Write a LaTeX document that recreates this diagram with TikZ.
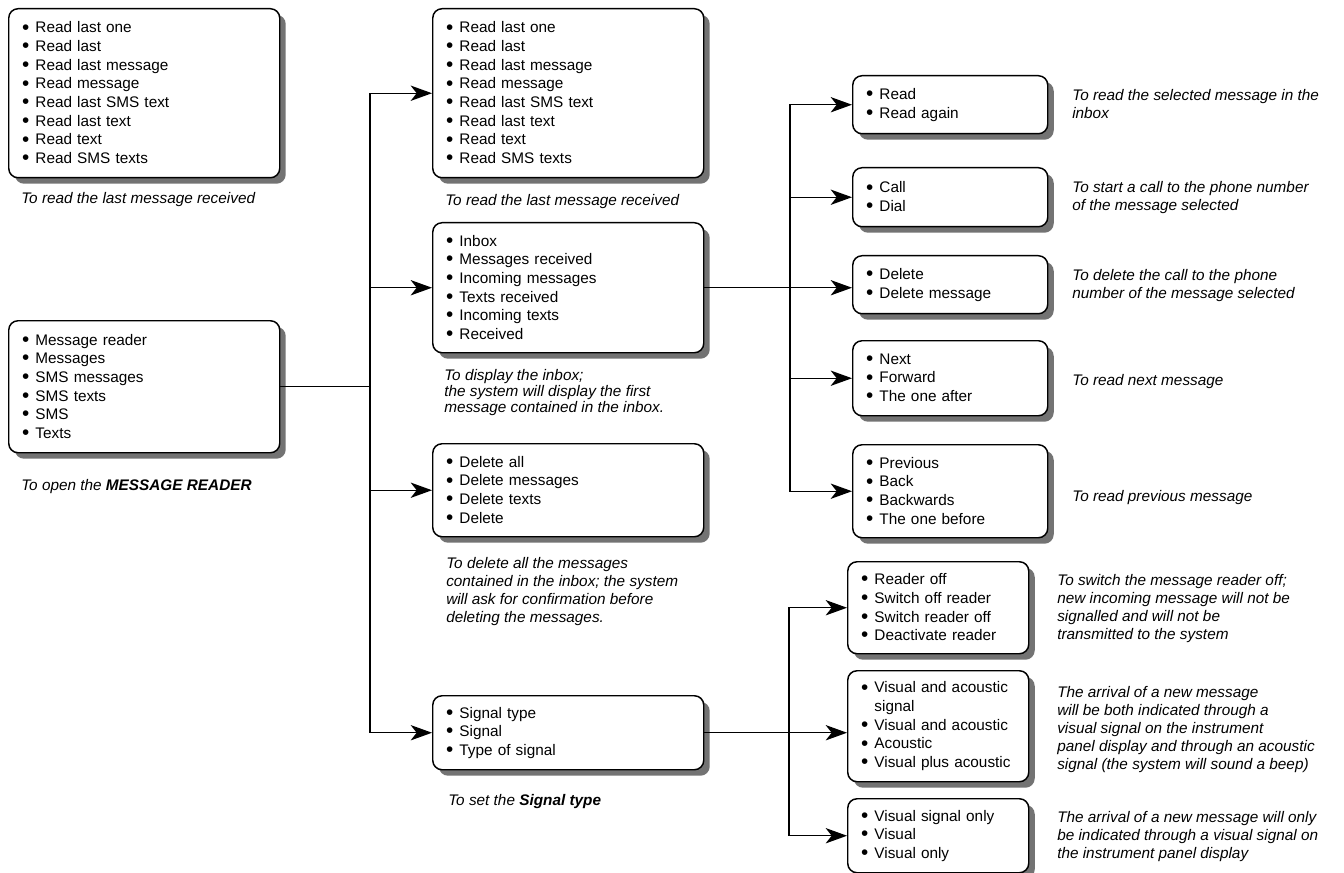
\documentclass[tikz,border=0pt]{standalone}
\usepackage{fontspec}
\usepackage{graphicx}
\setmainfont{Liberation Sans}
\usetikzlibrary{arrows.meta,shadows}
\newcommand{\bl}{\raisebox{-0.9pt}{\scalebox{1.35}{\textbullet}}\hspace{0.4em}}
\tikzset{
  cmdbox/.style={draw, line width=1.1pt, rounded corners=7pt, fill=white, align=left,
    anchor=north west, inner xsep=10pt, inner ysep=0pt,
    drop shadow={shadow xshift=4.5pt, shadow yshift=-4.5pt, fill=black!55, opacity=1}},
  wbox/.style={cmdbox, text width=183.25pt},
  rbox/.style={cmdbox, text width=126.25pt},
  sbox/.style={cmdbox, text width=115.75pt},
  note/.style={anchor=north west, inner sep=0pt, align=left,
    font=\fontsize{11.5}{13.6}\selectfont\itshape},
  link/.style={line width=1pt},
  arr/.style={-{Stealth[length=16pt, width=11.5pt, inset=4.5pt]}}
}
\begin{document}
\begin{tikzpicture}[x=0.75pt, y=-0.75pt, font=\fontsize{11.5}{14}\selectfont]
  \useasboundingbox (0,0) rectangle (1344,873);
  \foreach \n/\px/\py/\h/\t in {
      bA/8/8/169/{\bl Read last one\\ \bl Read last\\ \bl Read last message\\ \bl Read message\\
        \bl Read last SMS text\\ \bl Read last text\\ \bl Read text\\ \bl Read SMS texts},
      bB/8/320/132/{\bl Message reader\\ \bl Messages\\ \bl SMS messages\\ \bl SMS texts\\
        \bl SMS\\ \bl Texts},
      bC/432/8/169/{\bl Read last one\\ \bl Read last\\ \bl Read last message\\ \bl Read message\\
        \bl Read last SMS text\\ \bl Read last text\\ \bl Read text\\ \bl Read SMS texts},
      bD/432/222/130/{\bl Inbox\\ \bl Messages received\\ \bl Incoming messages\\
        \bl Texts received\\ \bl Incoming texts\\ \bl Received},
      bE/432/443/93/{\bl Delete all\\ \bl Delete messages\\ \bl Delete texts\\ \bl Delete},
      bF/432/695/74/{\bl Signal type\\ \bl Signal\\ \bl Type of signal}}
    \node[wbox, minimum height=\h*0.75pt] (\n) at (\px,\py) {\t};
  \foreach \n/\px/\py/\h/\t in {
      rRead/852/75/58/{\bl Read\\ \bl Read again},
      rCall/852/167/59/{\bl Call\\ \bl Dial},
      rDel/852/255/58/{\bl Delete\\ \bl Delete message},
      rNext/852/340/75/{\bl Next\\ \bl Forward\\ \bl The one after},
      rPrev/852/444/93/{\bl Previous\\ \bl Back\\ \bl Backwards\\ \bl The one before}}
    \node[rbox, minimum height=\h*0.75pt] (\n) at (\px,\py) {\t};
  \foreach \n/\px/\py/\h/\t in {
      sOff/847/561/92/{\bl Reader off\\ \bl Switch off reader\\ \bl Switch reader off\\
        \bl Deactivate reader},
      sVA/847/670/111/{\bl Visual and acoustic\\ \hphantom{\bl}signal\\ \bl Visual and acoustic\\
        \bl Acoustic\\ \bl Visual plus acoustic},
      sVO/847/798/74/{\bl Visual signal only\\ \bl Visual\\ \bl Visual only}}
    \node[sbox, minimum height=\h*0.75pt] (\n) at (\px,\py) {\t};
  \foreach \px/\py/\t [count=\i] in {
      21/192/{To read the last message received},
      21/479/{To open the \textbf{MESSAGE READER}},
      445/194/{To read the last message received},
      444/369/{To display the inbox;\\[-1.5pt] the system will display the first\\[-1.5pt]
        message contained in the inbox.},
      446/557/{To delete all the messages\\ contained in the inbox; the system\\
        will ask for confirmation before\\ deleting the messages.},
      448/794/{To set the \textbf{Signal type}},
      1072/89/{To read the selected message in the\\ inbox},
      1072/181/{To start a call to the phone number\\ of the message selected},
      1072/269/{To delete the call to the phone\\ number of the message selected},
      1072/374/{To read next message},
      1072/490/{To read previous message},
      1057/574/{To switch the message reader off;\\ new incoming message will not be\\
        signalled and will not be\\ transmitted to the system},
      1057/686/{The arrival of a new message\\ will be both indicated through a\\
        visual signal on the instrument\\ panel display and through an acoustic\\
        signal (the system will sound a beep)},
      1057/811/{The arrival of a new message will only\\ be indicated through a visual signal on\\
        the instrument panel display}}
    \node[note] (note\i) at (\px,\py) {\t};
  \coordinate (j1) at (370,0);
  \coordinate (j2) at (790,0);
  \coordinate (j3) at (789,0);
  \draw[link] (bB.east) -- (bB.east -| j1);
  \foreach \b in {bC,bD,bE,bF}
    \draw[link, arr] (bB.east -| j1) |- (\b.west);
  \draw[link, arr] (bD.east) -- (bD.east -| rDel.west);
  \foreach \b in {rRead,rCall,rNext,rPrev}
    \draw[link, arr] (bD.east -| j2) |- (\b.west);
  \draw[link, arr] (bF.east) -- (bF.east -| sVA.west);
  \foreach \b in {sOff,sVO}
    \draw[link, arr] (bF.east -| j3) |- (\b.west);
\end{tikzpicture}
\end{document}
